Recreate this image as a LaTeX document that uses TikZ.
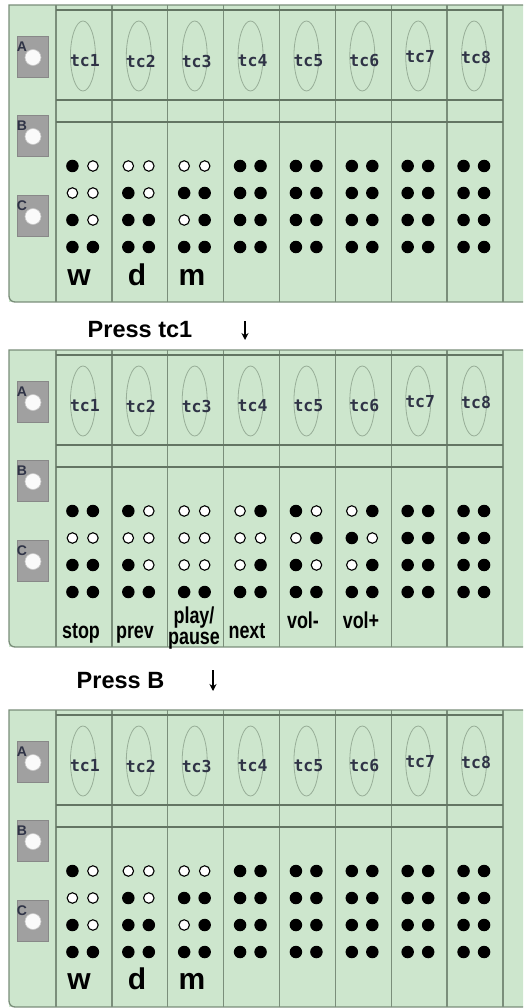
\documentclass[tikz,border=0pt]{standalone}
\usepackage{fontspec}
\setmainfont{Liberation Sans}
\setmonofont{DejaVu Sans Mono}
\newfontfamily\narrowfont[FakeStretch=0.78]{Liberation Sans}
\usetikzlibrary{arrows.meta,positioning,calc,shapes.geometric}
\definecolor{clPanel}{HTML}{CDE6CD}
\definecolor{clEdge}{HTML}{7A8E7A}
\definecolor{clRule}{HTML}{637563}
\definecolor{clRing}{HTML}{98AE98}
\definecolor{clKey}{HTML}{A0A0A0}
\definecolor{clKeyEdge}{HTML}{888888}
\definecolor{clLabel}{HTML}{2F3346}
\tikzset{
  panelline/.style={draw=clEdge, line width=1.3pt},
  colline/.style={draw=clEdge, line width=1.3pt},
  rule/.style={draw=clRule, line width=1.3pt},
  thickrule/.style={draw=clRule, line width=2.5pt},
  ring/.style={ellipse, draw=clRing, line width=0.8pt, minimum width=25pt,
               minimum height=70pt, inner sep=0pt},
  tclabel/.style={font=\ttfamily\bfseries\fontsize{16.5}{16.5}\selectfont, text=clLabel, inner sep=0pt},
  key/.style={rectangle, fill=clKey, draw=clKeyEdge, line width=0.6pt,
              minimum width=31pt, minimum height=41pt, inner sep=0pt},
  knob/.style={circle, fill=white!96!gray, draw=gray!45, line width=0.6pt,
               minimum size=16pt, inner sep=0pt},
  keyletter/.style={font=\bfseries\fontsize{14}{14}\selectfont, text=clLabel, inner sep=0pt},
  dot1/.style={circle, fill=black, minimum size=12.5pt, inner sep=0pt},
  dot0/.style={circle, fill=white, draw=black, line width=1.1pt, minimum size=10.5pt, inner sep=0pt},
  letter/.style={font=\bfseries\fontsize{30}{30}\selectfont, anchor=base, inner sep=0pt},
  keyname/.style={font=\narrowfont\bfseries\fontsize{23}{21}\selectfont, inner sep=0pt, align=center},
  press/.style={font=\bfseries\fontsize{23.5}{24}\selectfont, anchor=base, inner sep=0pt},
  down/.style={-{Stealth[length=7pt,width=7pt]}, line width=1.8pt},
}
% one board: #1 = y of the top rule, #2 = dot patterns, #3 = tag
\newcommand{\brailleboard}[3]{%
  \fill[clPanel] (9,{#1-5}) rectangle (540,{#1+292});
  \draw[panelline] (540,{#1-5}) -- (9,{#1-5}) -- (9,{#1+286})
    arc[start angle=180, end angle=90, radius=6] -- (540,{#1+292});
  \foreach \c in {0,...,8}
    \draw[colline] ({56+55.875*\c},{#1-5}) -- ({56+55.875*\c},{#1+292});
  \draw[rule] (56,#1) -- (503,#1);
  \draw[rule] (56,{#1+90}) -- (503,{#1+90});
  \draw[thickrule] (56,{#1+112}) -- (503,{#1+112});
  % touch pads
  \foreach \c/\dy in {1/51,2/51,3/51,4/51,5/51,6/51,7/47,8/47} {
    \node[ring] (#3-ring\c) at ({55+55.875*(\c-0.5)},{#1+46}) {};
    \node[tclabel] (#3-tc\c) at ({57+55.875*(\c-0.5)},{#1+\dy}) {tc\c};
  }
  % side keys
  \foreach \l/\dy in {A/47,B/126,C/206} {
    \node[key] (#3-key\l) at (32.5,{#1+\dy}) {};
    \node[knob] (#3-knob\l) at ($(#3-key\l)+(0.5,0.5)$) {};
    \node[keyletter] (#3-let\l) at ($(#3-key\l)+(-10.5,-10.5)$) {\l};
  }
  % braille cells
  \foreach \pat [count=\c] in {#2} {
    \foreach \v [count=\k] in \pat {
      \pgfmathsetmacro\dx{56+55.875*(\c-0.5)-11.5+20.5*mod(\k+1,2)}
      \pgfmathsetmacro\dy{#1+156+27*int((\k-1)/2)}
      \node[dot\v] (#3-\c-\k) at (\dx,\dy) {};
    }
  }
}

\begin{document}
\begin{tikzpicture}[x=1pt, y=-1pt]
  \useasboundingbox (0,0) rectangle (523,1008);
  \clip (0,0) rectangle (523,1008);

  \brailleboard{10}{{1,0,0,0,1,0,1,1},{0,0,1,0,1,1,1,1},{0,0,1,1,0,1,1,1},
    {1,1,1,1,1,1,1,1},{1,1,1,1,1,1,1,1},{1,1,1,1,1,1,1,1},
    {1,1,1,1,1,1,1,1},{1,1,1,1,1,1,1,1}}{top}
  \node[letter] (w1) at (79,285) {w};
  \node[letter] (d1) at (137,285) {d};
  \node[letter] (m1) at (192,285) {m};

  \node[press] (press1) at (140,337) {Press tc1};
  \coordinate (a1s) at (245,321);
  \coordinate (a1e) at (245,340);
  \draw[down] (a1s) -- (a1e);

  \brailleboard{355}{{1,1,0,0,1,1,1,1},{1,0,0,0,1,0,1,1},{0,0,0,0,0,0,1,1},
    {0,1,0,0,0,1,1,1},{1,0,0,1,1,0,1,1},{0,1,1,0,0,1,1,1},
    {1,1,1,1,1,1,1,1},{1,1,1,1,1,1,1,1}}{mid}
  \node[keyname, anchor=base] (stop) at (81,638) {stop};
  \node[keyname, anchor=base] (prev) at (135,638) {prev};
  \node[keyname] (play) at (194,628) {play/\\pause};
  \node[keyname, anchor=base] (next) at (247,638) {next};
  \node[keyname, anchor=base] (voldn) at (303,628) {vol-};
  \node[keyname, anchor=base] (volup) at (361,628) {vol+};

  \node[press] (press2) at (120.5,688) {Press B};
  \coordinate (a2s) at (213,670);
  \coordinate (a2e) at (213,691);
  \draw[down] (a2s) -- (a2e);

  \brailleboard{715}{{1,0,0,0,1,0,1,1},{0,0,1,0,1,1,1,1},{0,0,1,1,0,1,1,1},
    {1,1,1,1,1,1,1,1},{1,1,1,1,1,1,1,1},{1,1,1,1,1,1,1,1},
    {1,1,1,1,1,1,1,1},{1,1,1,1,1,1,1,1}}{low}
  \node[letter] (w3) at (79,989) {w};
  \node[letter] (d3) at (137,989) {d};
  \node[letter] (m3) at (192,989) {m};
\end{tikzpicture}
\end{document}
